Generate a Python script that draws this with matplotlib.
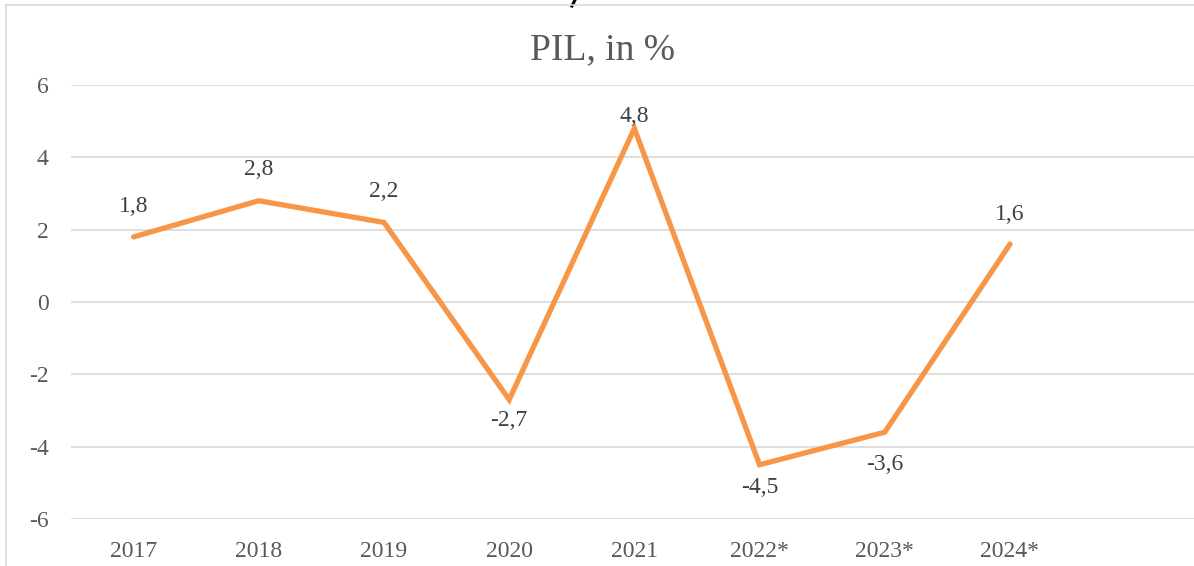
import matplotlib.pyplot as plt
from matplotlib.lines import Line2D

years = ['2017', '2018', '2019', '2020', '2021', '2022*', '2023*', '2024*']
pil = [1.8, 2.8, 2.2, -2.7, 4.8, -4.5, -3.6, 1.6]
labels = ['1,8', '2,8', '2,2', '-2,7', '4,8', '-4,5', '-3,6', '1,6']
# label offsets in pixels (Excel placement)
label_dy = [30, 31, 31, -21, 12, -23, -32, 30]
yticks = [-6, -4, -2, 0, 2, 4, 6]

plt.rcParams['font.family'] = ['Liberation Serif', 'DejaVu Serif']
txt_col = '#595959'
orange = '#F79646'
grid_col = '#d9d9d9'

fig = plt.figure(figsize=(11.94, 5.66), dpi=100)
ax = fig.add_axes([71 / 1194, 47 / 566, 1 - 71 / 1194, 434 / 566])

x = list(range(len(years)))
ax.plot(x, pil, color=orange, linewidth=3.8, solid_joinstyle='miter',
        solid_capstyle='round', zorder=3)

for xi, v, lab, dy in zip(x, pil, labels, label_dy):
    ax.annotate(lab, (xi, v), xytext=(0, dy), textcoords='offset pixels',
                ha='center', va='center', fontsize=17, color='#404040')

ax.set_xlim(-0.5, 8.47)
ax.set_ylim(-6, 6)
ax.set_yticks(yticks)
ax.set_yticklabels([str(t) for t in yticks])
ax.set_xticks(x)
ax.set_xticklabels(years)
ax.tick_params(axis='both', length=0, labelsize=17, colors=txt_col)
ax.tick_params(axis='y', pad=16)
ax.tick_params(axis='x', pad=16)
ax.grid(axis='y', color=grid_col, linewidth=1.2)
ax.set_axisbelow(True)
for s in ax.spines.values():
    s.set_visible(False)

fig.text(602 / 1194, 1 - 50 / 566, 'PIL, in %', ha='center', va='center',
         fontsize=27, color=txt_col)

# small stroke left from cut-off text above the chart
fig.add_artist(Line2D([575 / 1194, 572 / 1194], [1.0, 1 - 6 / 566], color='black', linewidth=2.2))

# chart area border (cropped)
fig.add_artist(Line2D([6 / 1194, 6 / 1194], [0, 1 - 5 / 566], color=grid_col, linewidth=1.2))
fig.add_artist(Line2D([6 / 1194, 1], [1 - 5 / 566, 1 - 5 / 566], color=grid_col, linewidth=1.2))

fig.savefig('out.png', dpi=100)
